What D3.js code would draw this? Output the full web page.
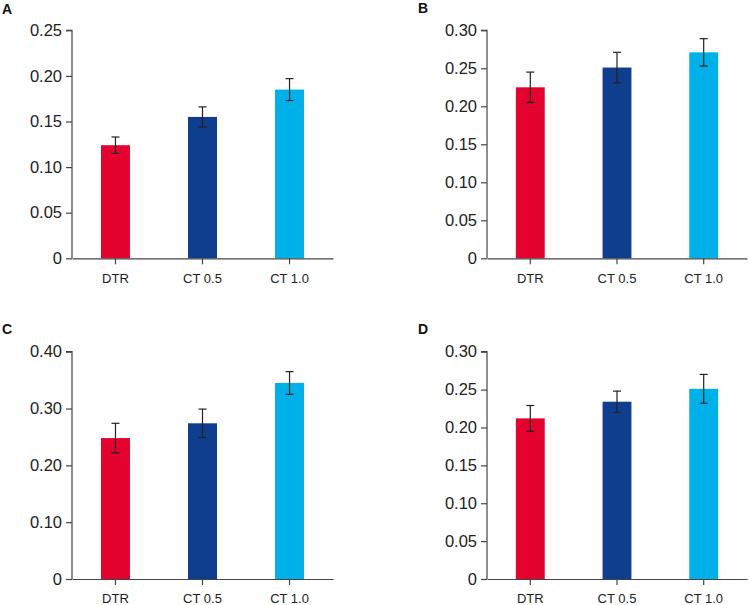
<!DOCTYPE html>
<html>
<head>
<meta charset="utf-8">
<script src="https://cdn.jsdelivr.net/npm/d3@7"></script>
<style>
  html, body { margin: 0; padding: 0; background: #fff; }
  svg { display: block; }
</style>
</head>
<body>
<svg id="chart" width="749" height="605"></svg>
<script>
const categories = ["DTR", "CT 0.5", "CT 1.0"];
const colors = ["#E4032E", "#0F3E8E", "#00B1E9"];

const panelLabels = ["A", "B", "C", "D"];
const valuesA = [0.124, 0.155, 0.185];
const errorsA = [0.009, 0.011, 0.012];
const valuesB = [0.225, 0.251, 0.271];
const errorsB = [0.020, 0.020, 0.018];
const valuesC = [0.248, 0.274, 0.345];
const errorsC = [0.026, 0.025, 0.020];
const valuesD = [0.212, 0.234, 0.251];
const errorsD = [0.017, 0.014, 0.019];

const ticksA = [0, 0.05, 0.10, 0.15, 0.20, 0.25];
const ticksB = [0, 0.05, 0.10, 0.15, 0.20, 0.25, 0.30];
const ticksC = [0, 0.10, 0.20, 0.30, 0.40];
const ticksD = [0, 0.05, 0.10, 0.15, 0.20, 0.25, 0.30];

const panels = [
  { label: panelLabels[0], values: valuesA, errors: errorsA, ticks: ticksA, x0: 72,  x1: 333, yTop: 30.3,  yBot: 258.3, lx: 2,   ly: 14 },
  { label: panelLabels[1], values: valuesB, errors: errorsB, ticks: ticksB, x0: 487, x1: 747, yTop: 30.3,  yBot: 258.3, lx: 418, ly: 13 },
  { label: panelLabels[2], values: valuesC, errors: errorsC, ticks: ticksC, x0: 72,  x1: 333, yTop: 351.7, yBot: 579,   lx: 2,   ly: 334 },
  { label: panelLabels[3], values: valuesD, errors: errorsD, ticks: ticksD, x0: 487, x1: 747, yTop: 351.7, yBot: 579,   lx: 418, ly: 334 }
];

const svg = d3.select("#chart");
const axisColor = "#444";

panels.forEach(p => {
  const g = svg.append("g");
  const x = d3.scaleBand().domain(categories).range([p.x0, p.x1]).paddingInner(0.667).paddingOuter(0.333);
  const yMax = p.ticks[p.ticks.length - 1];
  const y = d3.scaleLinear().domain([0, yMax]).range([p.yBot, p.yTop]);

  // bars
  g.selectAll("rect.bar").data(categories).enter().append("rect")
    .attr("class", "bar")
    .attr("x", d => x(d))
    .attr("width", x.bandwidth())
    .attr("y", (d, i) => y(p.values[i]))
    .attr("height", (d, i) => y(0) - y(p.values[i]))
    .attr("fill", (d, i) => colors[i]);

  // error bars
  const eb = g.selectAll("g.err").data(categories).enter().append("g").attr("class", "err")
    .attr("stroke", "#222").attr("stroke-width", 1.2);
  const cx = d => x(d) + x.bandwidth() / 2;
  eb.append("line")
    .attr("x1", cx).attr("x2", cx)
    .attr("y1", (d, i) => y(p.values[i] + p.errors[i]))
    .attr("y2", (d, i) => y(p.values[i] - p.errors[i]));
  eb.append("line")
    .attr("x1", d => cx(d) - 4).attr("x2", d => cx(d) + 4)
    .attr("y1", (d, i) => y(p.values[i] + p.errors[i]))
    .attr("y2", (d, i) => y(p.values[i] + p.errors[i]));
  eb.append("line")
    .attr("x1", d => cx(d) - 4).attr("x2", d => cx(d) + 4)
    .attr("y1", (d, i) => y(p.values[i] - p.errors[i]))
    .attr("y2", (d, i) => y(p.values[i] - p.errors[i]));

  // y axis
  const yAxis = d3.axisLeft(y).tickValues(p.ticks).tickSize(6).tickPadding(4)
    .tickFormat(v => v === 0 ? "0" : d3.format(".2f")(v));
  const ya = g.append("g").attr("transform", `translate(${p.x0},0)`).call(yAxis);
  ya.select(".domain").attr("stroke", axisColor).attr("stroke-width", 1.2)
    .attr("d", `M-6,${p.yTop}H0V${p.yBot}`);
  ya.selectAll(".tick line").attr("stroke", axisColor).attr("stroke-width", 1.2);
  ya.selectAll(".tick text").attr("fill", "#222")
    .style("font-family", "'Liberation Sans', Arial, sans-serif").style("font-size", "16.5px");

  // x axis
  const xAxis = d3.axisBottom(x).tickSize(6).tickPadding(9).tickSizeOuter(0);
  const xa = g.append("g").attr("transform", `translate(0,${p.yBot})`).call(xAxis);
  xa.select(".domain").attr("stroke", axisColor).attr("stroke-width", 1.2);
  xa.selectAll(".tick line").attr("stroke", axisColor).attr("stroke-width", 1.2);
  xa.selectAll(".tick text").attr("fill", "#222")
    .style("font-family", "'Liberation Sans', Arial, sans-serif").style("font-size", "13px");

  // panel label
  g.append("text").attr("x", p.lx).attr("y", p.ly).text(p.label)
    .attr("fill", "#111")
    .style("font-family", "'Liberation Sans', Arial, sans-serif")
    .style("font-weight", "bold").style("font-size", "14px");
});
</script>
</body>
</html>
